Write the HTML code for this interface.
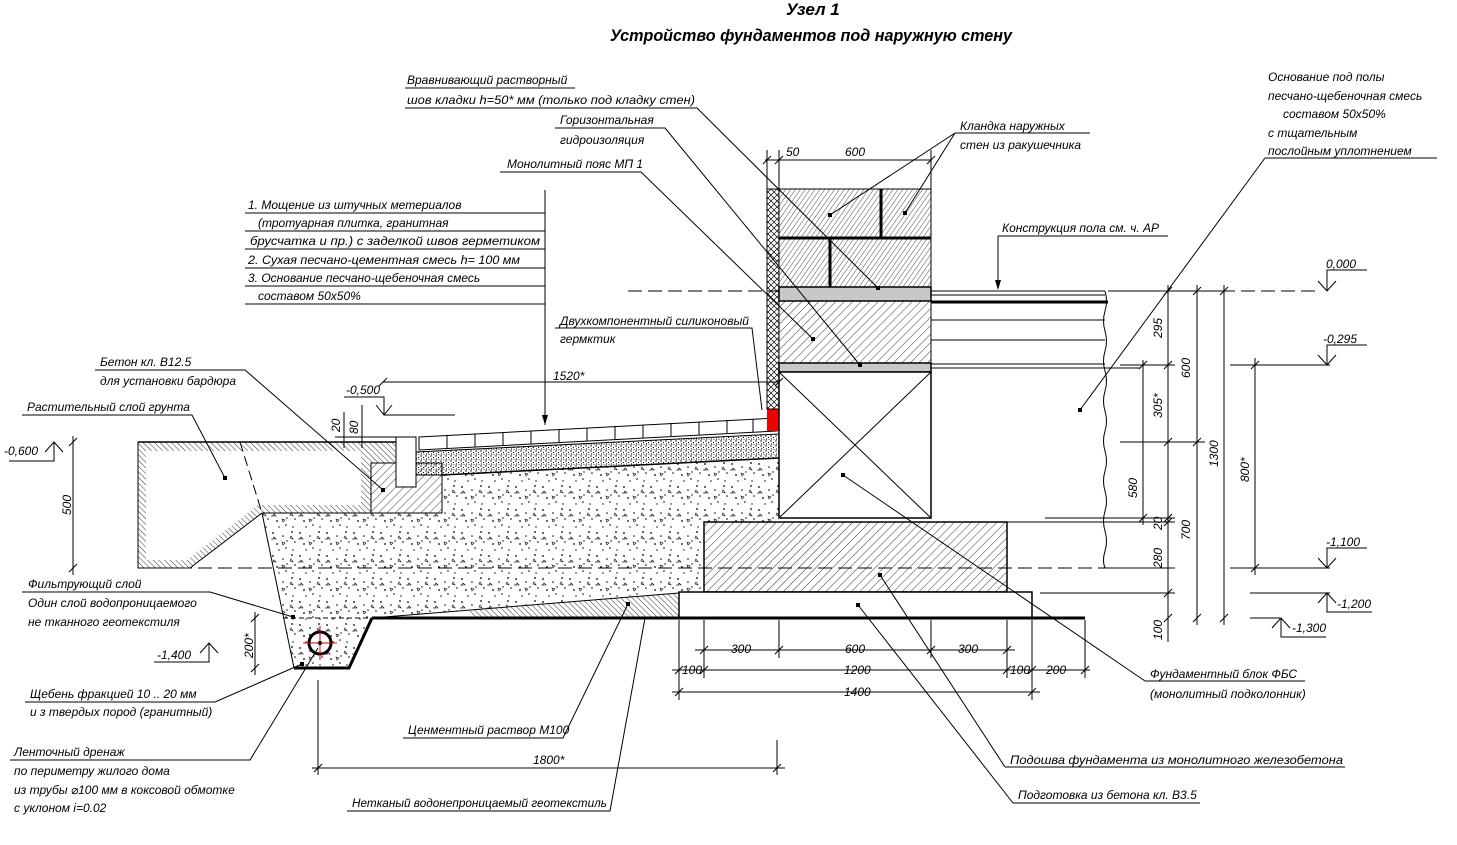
<!DOCTYPE html>
<html><head><meta charset="utf-8"><style>
html,body{margin:0;padding:0;background:#fff;}
svg{display:block;}
text{font-family:"Liberation Sans","DejaVu Sans",sans-serif;font-style:italic;font-size:12px;fill:#000;}
.t{font-weight:bold;font-size:17px;}
</style></head><body>
<svg width="1457" height="845" viewBox="0 0 1457 845" xmlns="http://www.w3.org/2000/svg">
<defs>
<pattern id="h1" width="6" height="6" patternUnits="userSpaceOnUse" patternTransform="rotate(45)"><line x1="0" y1="0" x2="0" y2="6" stroke="#000" stroke-width="0.8"/></pattern>
<pattern id="h2" width="4" height="4" patternUnits="userSpaceOnUse" patternTransform="rotate(35)"><line x1="0" y1="0" x2="0" y2="4" stroke="#000" stroke-width="0.7"/></pattern>
<pattern id="hx" width="6" height="6" patternUnits="userSpaceOnUse"><path d="M0 0L6 6M6 0L0 6" stroke="#000" stroke-width="0.7"/></pattern>
<pattern id="hs" width="4" height="4" patternUnits="userSpaceOnUse" patternTransform="rotate(-45)"><line x1="0" y1="0" x2="0" y2="4" stroke="#000" stroke-width="0.8"/></pattern>
<pattern id="gr" width="27" height="23" patternUnits="userSpaceOnUse">
<circle cx="3" cy="4" r="0.9"/><circle cx="13" cy="7" r="0.8"/><circle cx="22" cy="3" r="0.9"/><circle cx="25" cy="13" r="0.8"/><circle cx="7" cy="15" r="0.9"/><circle cx="16" cy="19" r="0.8"/><circle cx="23" cy="21" r="0.7"/><circle cx="9" cy="21" r="0.7"/><circle cx="17" cy="12" r="0.7"/><circle cx="2" cy="10" r="0.6"/>
<path d="M12 13l3 1-2 2z M4 8l2 2-3 0z M21 7l2 3-3-1z" fill="none" stroke="#000" stroke-width="0.6"/></pattern>
<pattern id="sd" width="5" height="5" patternUnits="userSpaceOnUse">
<circle cx="1" cy="1" r="0.7"/><circle cx="3.5" cy="2.5" r="0.6"/><circle cx="1.5" cy="4" r="0.6"/><circle cx="4" cy="4.5" r="0.5"/></pattern>
</defs>

<text class="t" x="786" y="15">Узел 1</text>
<text class="t" x="610" y="41" textLength="402" lengthAdjust="spacingAndGlyphs">Устройство фундаментов под наружную стену</text>

<g stroke="#000" stroke-width="1" stroke-dasharray="14 6" fill="none">
<line x1="628" y1="291" x2="1160" y2="291"/>
<line x1="138" y1="568" x2="1110" y2="568"/>
<line x1="1315" y1="291" x2="1240" y2="291"/>
</g>

<polygon points="262,513 371,513 442,513 442,475 779,458 779,522 704,522 704,592 679,592 372,618 283,618" fill="url(#gr)" stroke="none"/>
<polyline points="262,513 294,668" stroke="#000" fill="none"/>
<polygon points="470,610 679,593 679,618 470,618" fill="url(#hs)" stroke="none"/>
<line x1="372" y1="618" x2="679" y2="593" stroke="#000"/>
<polygon points="283,618 372,618 349,668 294,668" fill="url(#gr)"/>
<polyline points="372,618 349,668 294,668" stroke="#000" stroke-width="3" fill="none"/>
<line x1="283" y1="618" x2="372" y2="618" stroke="#000" stroke-dasharray="5 3"/>
<circle cx="320" cy="643" r="11" fill="#fff" stroke="#000" stroke-width="3"/>
<g stroke="#d00" stroke-width="1"><line x1="303" y1="643" x2="337" y2="643"/><line x1="320" y1="626" x2="320" y2="660"/></g>
<circle cx="320" cy="643" r="2"/>
<line x1="372" y1="618" x2="1085" y2="618" stroke="#000" stroke-width="3"/>

<polygon points="138,442 396,442 396,463 371,463 371,513 262,513 190,568 138,568" fill="url(#hs)" stroke="#000"/>
<polygon points="146,451 386,451 361,451 361,505 258,505 187,560 146,560" fill="#fff" stroke="none"/>
<line x1="138" y1="442" x2="396" y2="442" stroke="#000" stroke-width="1.5"/>
<line x1="240" y1="442" x2="262" y2="513" stroke="#000" stroke-dasharray="10 5"/>

<polygon points="371,463 442,463 442,513 371,513" fill="url(#h1)" stroke="#000"/>
<rect x="396" y="437" width="20" height="50" fill="#fff" stroke="#000"/>

<polygon points="416,452 779,434 779,458 442,475 416,475" fill="url(#sd)" stroke="#000"/>
<line x1="442" y1="475" x2="779" y2="458" stroke="#000" stroke-width="1.5"/>
<polygon points="419,437 777,418 777,431 419,450" fill="#fff" stroke="#000"/>
<g stroke="#000" stroke-width="1">
<line x1="447" y1="435" x2="447" y2="448"/><line x1="475" y1="434" x2="475" y2="447"/><line x1="503" y1="432" x2="503" y2="445"/><line x1="531" y1="431" x2="531" y2="444"/><line x1="559" y1="429" x2="559" y2="442"/><line x1="587" y1="428" x2="587" y2="441"/><line x1="615" y1="426" x2="615" y2="439"/><line x1="643" y1="425" x2="643" y2="438"/><line x1="671" y1="423" x2="671" y2="436"/><line x1="699" y1="422" x2="699" y2="435"/><line x1="727" y1="420" x2="727" y2="433"/><line x1="753" y1="419" x2="753" y2="432"/>
</g>
<rect x="767" y="409" width="12" height="22" fill="#e00"/>

<rect x="767" y="189" width="12" height="220" fill="url(#hx)" stroke="#000"/>
<rect x="779" y="189" width="152" height="98" fill="url(#h2)" stroke="#000"/>
<g stroke="#000" stroke-width="3"><line x1="881" y1="189" x2="881" y2="238"/><line x1="830" y1="238" x2="830" y2="287"/><line x1="779" y1="238" x2="931" y2="238"/></g>
<rect x="779" y="287" width="152" height="14" fill="#c8c8c8" stroke="#000" stroke-width="1.5"/>
<rect x="779" y="301" width="152" height="62" fill="url(#h1)" stroke="#000"/>
<rect x="779" y="363" width="152" height="9" fill="#c8c8c8" stroke="#000" stroke-width="1.5"/>
<rect x="779" y="372" width="152" height="146" fill="#fff" stroke="#000" stroke-width="1.5"/>
<path d="M779 372L931 518M931 372L779 518" stroke="#000"/>
<line x1="779" y1="522" x2="931" y2="522" stroke="#000"/>
<rect x="704" y="522" width="303" height="70" fill="url(#h1)" stroke="#000" stroke-width="1.5"/>
<rect x="679" y="592" width="353" height="26" fill="#fff" stroke="#000" stroke-width="1.5"/>
<line x1="679" y1="618" x2="1085" y2="618" stroke="#000" stroke-width="3"/>

<g stroke="#000" fill="none">
<line x1="931" y1="291" x2="1105" y2="291"/><line x1="931" y1="295" x2="1105" y2="295"/>
<line x1="931" y1="302" x2="1108" y2="302" stroke-width="3"/>
<line x1="931" y1="320" x2="1105" y2="320"/><line x1="931" y1="340" x2="1105" y2="340"/>
<line x1="931" y1="364" x2="1105" y2="364"/><line x1="931" y1="368" x2="1140" y2="368"/>
<path d="M1105 291q3 10 0 20t0 20t0 20t0 20t0 20t0 20t0 20t0 20t0 20t0 20t0 20t0 20t0 20t0 17"/>
<line x1="1045" y1="518" x2="1175" y2="518"/><line x1="931" y1="522" x2="1175" y2="522"/>
<line x1="1040" y1="593" x2="1175" y2="593"/>
<line x1="1120" y1="442" x2="1205" y2="442"/><line x1="1110" y1="568" x2="1175" y2="568"/>
<line x1="1120" y1="291" x2="1235" y2="291"/><line x1="1120" y1="365" x2="1175" y2="365"/>
<line x1="1230" y1="365" x2="1330" y2="365"/><line x1="1230" y1="568" x2="1330" y2="568"/>
<line x1="1250" y1="593" x2="1330" y2="593"/><line x1="1250" y1="618" x2="1280" y2="618"/>
</g>

<g stroke="#000" fill="none" stroke-width="1">
<line x1="1168" y1="285" x2="1168" y2="642"/>
<line x1="1143" y1="360" x2="1143" y2="525"/>
<line x1="1197" y1="285" x2="1197" y2="625"/>
<line x1="1224" y1="285" x2="1224" y2="625"/>
<line x1="1255" y1="358" x2="1255" y2="575"/>
<path d="M1164 295l8-8M1164 369l8-8M1164 446l8-8M1164 522l8-8M1164 526l8-8M1164 597l8-8M1164 622l8-8M1139 369l8-8M1139 522l8-8M1193 295l8-8M1193 446l8-8M1193 622l8-8M1220 295l8-8M1220 622l8-8M1251 369l8-8M1251 572l8-8"/>
<path d="M1318 281l9 10 9-10M1327 291V270h40M1318 355l9 10 9-10M1327 365V345h40M1318 558l9 10 9-10M1327 568V548h40M1318 603l9-10 9 10M1327 593V612h45M1272 628l9-10 9 10M1281 618V637h45"/>
<path d="M376 405l8 10 8-10M384 415V397h-40M384 415H455M45 452l9-10 9 10M54 442V461h-45M200 653l9-10 9 10M209 643V662h-55"/>
</g>
<g font-size="12">
<text x="1326" y="268">0,000</text><text x="1323" y="343">-0,295</text><text x="1326" y="546">-1,100</text><text x="1337" y="608">-1,200</text><text x="1292" y="632">-1,300</text>
<text x="346" y="394">-0,500</text><text x="4" y="455">-0,600</text><text x="157" y="659">-1,400</text>
</g>
<g font-size="11">
<text transform="translate(1162,338) rotate(-90)">295</text>
<text transform="translate(1162,418) rotate(-90)">305*</text>
<text transform="translate(1137,498) rotate(-90)">580</text>
<text transform="translate(1162,530) rotate(-90)">20</text>
<text transform="translate(1162,568) rotate(-90)">280</text>
<text transform="translate(1162,640) rotate(-90)">100</text>
<text transform="translate(1190,378) rotate(-90)">600</text>
<text transform="translate(1190,540) rotate(-90)">700</text>
<text transform="translate(1218,467) rotate(-90)">1300</text>
<text transform="translate(1249,482) rotate(-90)">800*</text>
<text transform="translate(71,515) rotate(-90)">500</text>
<text transform="translate(253,658) rotate(-90)">200*</text>
<text transform="translate(340,432) rotate(-90)">20</text>
<text transform="translate(358,434) rotate(-90)">80</text>
</g>
<g stroke="#000" fill="none">
<line x1="73" y1="436" x2="73" y2="575"/><path d="M69 446l8-8M69 572l8-8"/>
<line x1="255" y1="612" x2="255" y2="675"/><path d="M251 622l8-8M251 672l8-8"/>
<line x1="344" y1="412" x2="344" y2="448"/><line x1="362" y1="405" x2="362" y2="448"/>
<line x1="335" y1="442" x2="396" y2="442"/><line x1="335" y1="437" x2="396" y2="437"/>
<line x1="383" y1="382" x2="779" y2="382"/><path d="M379 386l8-8M775 386l8-8"/>
<line x1="765" y1="160" x2="931" y2="160"/><path d="M763 164l8-8M775 164l8-8M927 164l8-8"/>
<line x1="767" y1="150" x2="767" y2="189"/><line x1="779" y1="150" x2="779" y2="189"/><line x1="931" y1="150" x2="931" y2="189"/>
<line x1="695" y1="650" x2="1015" y2="650"/>
<line x1="672" y1="670" x2="1090" y2="670"/>
<line x1="672" y1="692" x2="1040" y2="692"/>
<line x1="312" y1="768" x2="785" y2="768"/>
<line x1="679" y1="620" x2="679" y2="700"/><line x1="704" y1="620" x2="704" y2="678"/><line x1="779" y1="620" x2="779" y2="658"/>
<line x1="931" y1="620" x2="931" y2="658"/><line x1="1007" y1="620" x2="1007" y2="678"/><line x1="1032" y1="620" x2="1032" y2="700"/><line x1="1085" y1="620" x2="1085" y2="678"/>
<line x1="318" y1="680" x2="318" y2="775"/><line x1="777" y1="740" x2="777" y2="775"/>
<path d="M700 654l8-8M775 654l8-8M927 654l8-8M1003 654l8-8M675 674l8-8M700 674l8-8M1003 674l8-8M1028 674l8-8M1081 674l8-8M675 696l8-8M1028 696l8-8M314 772l8-8M773 772l8-8"/>
</g>
<g font-size="12">
<text x="786" y="156">50</text><text x="845" y="156">600</text>
<text x="553" y="380">1520*</text>
<text x="731" y="653">300</text><text x="845" y="653">600</text><text x="958" y="653">300</text>
<text x="682" y="674">100</text><text x="844" y="674">1200</text><text x="1010" y="674">100</text><text x="1046" y="674">200</text>
<text x="844" y="696">1400</text><text x="533" y="764">1800*</text>
</g>

<g stroke="#000" fill="none" stroke-width="1">
<path d="M405 88H575M405 108H697L878 288"/>
<path d="M555 128H665L860 365"/>
<path d="M500 172H641L813 339"/>
<path d="M955 133H1090M955 133L830 215M955 133L905 213"/>
<path d="M1265 158H1437M1265 158L1080 410"/>
<path d="M998 236H1168M998 236V288"/>
<path d="M245 213H545M245 231H545M245 249H545M245 268H545M245 286H545M245 304H545M545 190V425"/>
<path d="M555 328H752L762 410"/>
<path d="M95 370H245L383 490"/>
<path d="M22 415H192L225 478"/>
<path d="M22 592H210L293 617"/>
<path d="M25 702H215L302 664"/>
<path d="M10 760H250L318 648"/>
<path d="M403 738H563L628 604"/>
<path d="M347 811H610L645 618"/>
<path d="M1145 681H1305M1145 681L843 475"/>
<path d="M1005 767H1345M1005 767L880 575"/>
<path d="M1013 803H1200M1013 803L858 605"/>
</g>
<g>
<path d="M995 280l3 10 3-10z M542 415l3 10 3-10z"/>
<rect x="876" y="286" width="4" height="4"/><rect x="858" y="363" width="4" height="4"/><rect x="811" y="337" width="4" height="4"/>
<rect x="828" y="213" width="4" height="4"/><rect x="903" y="211" width="4" height="4"/><rect x="1078" y="408" width="4" height="4"/>
<rect x="381" y="488" width="4" height="4"/><rect x="223" y="476" width="4" height="4"/><rect x="291" y="615" width="4" height="4"/>
<rect x="300" y="662" width="4" height="4"/><rect x="626" y="602" width="4" height="4"/><rect x="841" y="473" width="4" height="4"/>
<rect x="878" y="573" width="4" height="4"/><rect x="856" y="603" width="4" height="4"/>
</g>

<text x="407" y="84">Вравнивающий растворный</text>
<text x="407" y="104" textLength="288" lengthAdjust="spacingAndGlyphs">шов кладки h=50* мм (только под кладку стен)</text>
<text x="560" y="124">Горизонтальная</text>
<text x="560" y="144">гидроизоляция</text>
<text x="507" y="168">Монолитный пояс МП 1</text>
<text x="960" y="130">Кландка наружных</text>
<text x="960" y="149">стен из ракушечника</text>
<text x="1268" y="81">Основание под полы</text>
<text x="1268" y="100">песчано-щебеночная смесь</text>
<text x="1283" y="118">составом 50х50%</text>
<text x="1268" y="137">с тщательным</text>
<text x="1268" y="155">послойным уплотнением</text>
<text x="1002" y="232">Конструкция пола см. ч. АР</text>
<text x="248" y="209">1. Мощение из штучных метериалов</text>
<text x="258" y="227">(тротуарная плитка, гранитная</text>
<text x="250" y="245" textLength="290" lengthAdjust="spacingAndGlyphs">брусчатка и пр.) с заделкой швов герметиком</text>
<text x="248" y="264" textLength="272" lengthAdjust="spacingAndGlyphs">2. Сухая песчано-цементная смесь  h= 100 мм</text>
<text x="248" y="282">3. Основание песчано-щебеночная смесь</text>
<text x="258" y="300">составом 50х50%</text>
<text x="560" y="325">Двухкомпонентный силиконовый</text>
<text x="560" y="343">гермктик</text>
<text x="100" y="366">Бетон кл. B12.5</text>
<text x="100" y="385">для установки бардюра</text>
<text x="27" y="411">Растительный слой грунта</text>
<text x="28" y="588">Фильтрующий слой</text>
<text x="28" y="607">Один слой водопроницаемого</text>
<text x="28" y="626">не тканного геотекстиля</text>
<text x="30" y="698">Щебень фракцией 10 .. 20 мм</text>
<text x="30" y="716">и з твердых пород (гранитный)</text>
<text x="14" y="756">Ленточный дренаж</text>
<text x="14" y="775">по периметру жилого дома</text>
<text x="14" y="794">из трубы ⌀100 мм в коксовой обмотке</text>
<text x="14" y="812">с уклоном i=0.02</text>
<text x="408" y="734">Ценментный раствор М100</text>
<text x="352" y="807" textLength="255" lengthAdjust="spacingAndGlyphs">Нетканый водонепроницаемый геотекстиль</text>
<text x="1150" y="678">Фундаментный блок ФБС</text>
<text x="1150" y="698">(монолитный подколонник)</text>
<text x="1010" y="764" textLength="333" lengthAdjust="spacingAndGlyphs">Подошва фундамента из монолитного железобетона</text>
<text x="1018" y="799">Подготовка из бетона кл. B3.5</text>
</svg>
</body></html>
